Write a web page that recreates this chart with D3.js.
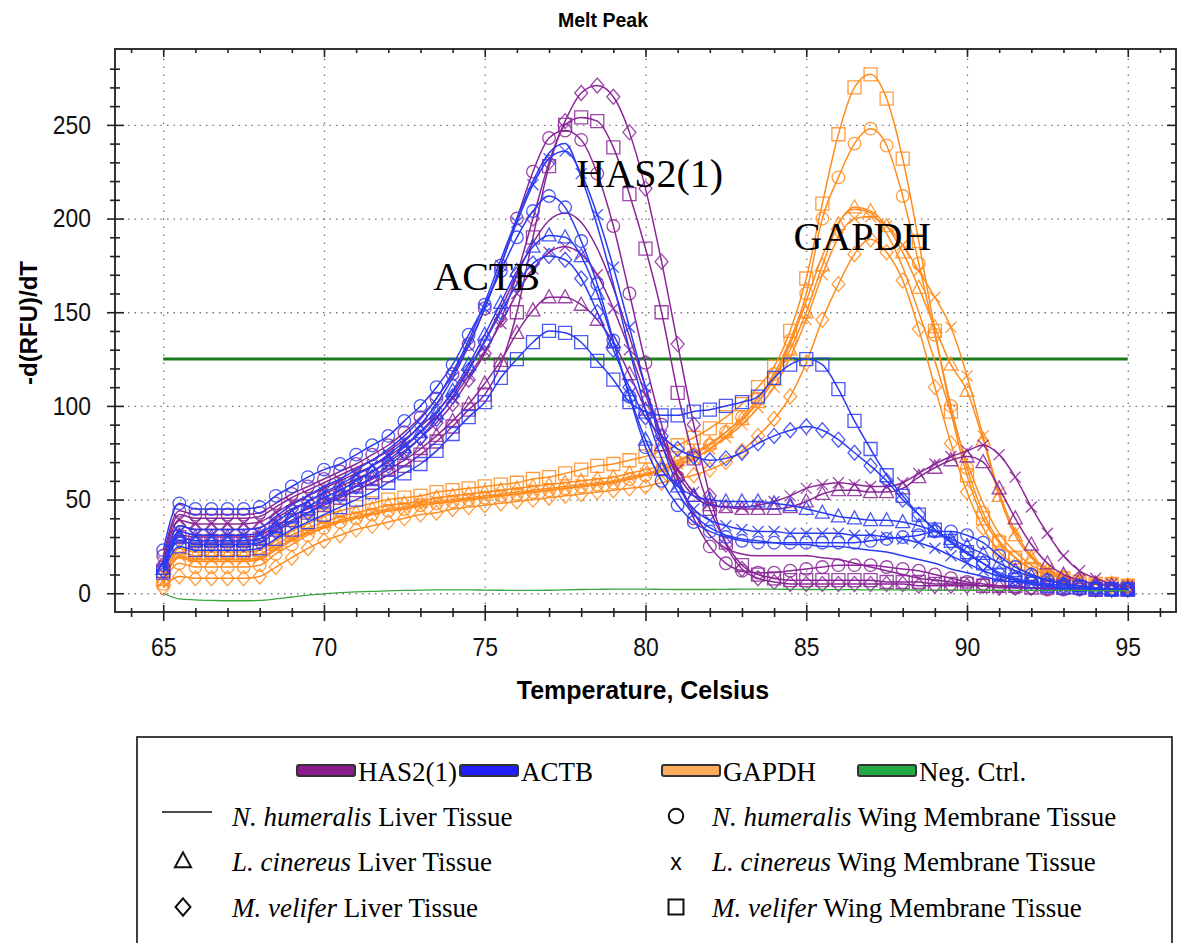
<!DOCTYPE html>
<html>
<head>
<meta charset="utf-8">
<title>Melt Peak</title>
<script src="https://cdn.jsdelivr.net/npm/d3@7"></script>
<style>
  body { margin: 0; background: white; }
  .sans { font-family: "Liberation Sans", Arial, sans-serif; }
  .serif { font-family: "Liberation Serif", "Times New Roman", serif; }
  .tick text { font-family: "Liberation Sans", Arial, sans-serif; font-size: 26px; fill: #111; }
</style>
</head>
<body>
<svg id="chart" width="1182" height="943"></svg>
<script>
// temperature steps (Celsius)
const temps = [65,65.5,66,66.5,67,67.5,68,68.5,69,69.5,
  70,70.5,71,71.5,72,72.5,73,73.5,74,74.5,
  75,75.5,76,76.5,77,77.5,78,78.5,79,79.5,
  80,80.5,81,81.5,82,82.5,83,83.5,84,84.5,
  85,85.5,86,86.5,87,87.5,88,88.5,89,89.5,
  90,90.5,91,91.5,92,92.5,93,93.5,94,94.5,95];

// HAS2(1)
const has2Line = [18,42,40,40,40,40,41,46,51,55,
  59,63,67,71,76,82,89,97,107,120,
  135,152,170,187,199,203,198,184,163,137,
  110,84,61,43,31,24,21,20,20,20,
  20,19,18,16,14,12,10,8,7,6,
  5,4,4,3,3,3,2,2,2,2,2];
const has2Circle = [20,44,42,42,42,42,43,48,53,57,
  61,65,69,74,79,86,94,104,117,133,
  152,175,200,225,243,247,242,224,196,160,
  123,90,62,40,25,16,12,11,11,12,
  13,14,15,15,15,14,13,12,10,8,
  6,5,4,3,3,2,2,2,2,2,2];
const has2Tri = [13,31,30,30,30,30,31,36,41,45,
  49,53,57,61,66,71,77,84,92,101,
  112,124,139,151,158,158,154,146,134,117,
  98,79,63,52,47,46,45,45,45,46,
  49,53,55,55,54,54,56,62,67,71,
  73,70,56,40,26,16,10,7,5,4,3];
const has2X = [17,39,37,37,37,37,38,43,48,52,
  56,60,64,68,73,79,86,94,104,116,
  129,144,160,173,182,185,181,170,152,130,
  106,84,66,54,48,46,46,47,49,52,
  56,58,59,58,57,57,59,64,69,73,
  76,79,74,62,46,32,20,12,8,5,4];
const has2Dia = [15,36,34,34,34,34,35,40,45,49,
  53,57,61,65,70,76,83,91,101,114,
  128,146,170,200,230,252,267,271,265,246,
  216,177,133,90,52,26,13,8,6,5,
  5,5,5,5,5,5,5,4,4,4,
  4,4,3,3,3,3,3,3,2,2,2];
const has2Sq = [12,30,28,28,28,28,29,34,39,43,
  47,51,55,59,63,68,74,81,89,98,
  106,122,150,190,228,250,254,252,238,213,
  184,150,107,72,45,27,15,10,8,7,
  7,7,7,7,7,6,6,6,5,5,
  5,4,4,4,3,3,3,3,2,2,2];

// ACTB
const actbLine = [15,36,34,34,34,34,35,41,47,52,
  57,61,66,71,77,84,93,104,118,135,
  155,178,200,220,235,240,222,196,165,130,
  98,72,54,42,35,31,29,28,27,26,
  26,25,25,24,23,22,20,18,16,13,
  11,9,7,6,5,4,3,3,2,2,2];
const actbCircle = [23,48,45,45,45,45,46,52,57,62,
  66,69,74,79,84,92,100,110,122,138,
  154,172,190,204,212,206,188,165,135,105,
  78,60,47,38,33,30,28,27,27,27,
  27,27,27,27,28,29,30,31,33,33,
  31,27,20,14,10,7,5,4,3,2,2];
const actbTri = [13,30,28,28,28,28,29,35,41,46,
  51,55,60,65,71,78,86,96,108,122,
  138,155,172,185,191,190,180,160,134,106,
  82,66,57,52,50,49,49,49,48,47,
  45,43,41,40,39,39,38,36,33,29,
  25,21,16,12,9,7,5,4,3,2,2];
const actbX = [14,33,31,31,31,31,32,38,44,49,
  54,58,63,68,74,81,90,101,115,132,
  152,175,198,218,232,236,224,202,174,142,
  110,80,58,45,39,36,34,33,33,32,
  32,32,32,31,31,30,29,27,24,20,
  16,12,9,7,5,4,3,3,2,2,2];
const actbDia = [12,28,26,26,26,26,27,33,38,43,
  48,52,57,62,68,75,83,93,105,119,
  134,150,165,176,180,178,168,150,130,110,
  94,84,77,73,71,72,75,80,84,87,
  89,87,82,75,68,60,50,42,34,27,
  21,16,11,8,6,5,4,3,3,2,2];
const actbSq = [11,25,23,23,23,23,24,29,34,38,
  42,46,50,54,59,64,69,76,85,94,
  102,115,125,134,140,139,134,124,114,102,
  97,95,95,97,98,100,102,105,115,122,
  125,122,109,92,77,63,52,42,34,28,
  22,16,10,7,5,4,3,3,2,2,2];

// GAPDH
const gapdhLine = [6,19,17,17,17,17,18,23,28,32,
  35,38,40,42,44,45,47,48,49,50,
  51,52,53,54,55,56,57,58,59,61,
  63,65,68,72,77,84,92,102,115,133,
  156,180,198,205,203,192,174,150,124,96,
  70,48,32,22,15,11,8,6,5,5,4];
const gapdhCircle = [5,16,14,14,14,14,15,21,26,31,
  35,38,40,42,44,45,47,48,49,50,
  51,52,53,54,55,56,57,58,59,61,
  63,66,70,74,79,86,94,104,117,135,
  160,200,222,240,248,239,212,176,138,100,
  67,43,28,19,13,10,8,6,5,5,4];
const gapdhTri = [7,22,20,20,20,20,21,26,31,35,
  38,41,43,45,47,48,49,51,52,53,
  54,55,56,57,58,59,60,61,62,64,
  66,68,71,75,80,86,93,102,114,130,
  150,175,197,206,204,196,182,163,142,122,
  108,82,52,31,19,12,9,7,5,5,4];
const gapdhX = [6,20,18,18,18,18,19,24,29,33,
  36,39,41,43,45,46,48,49,50,51,
  52,53,54,55,56,57,58,59,60,62,
  64,66,69,72,77,83,90,99,110,126,
  146,170,190,200,201,196,186,172,158,142,
  116,84,54,33,20,13,9,7,5,5,4];
const gapdhDia = [3,9,8,8,8,8,9,14,19,24,
  28,31,34,36,38,40,42,43,45,46,
  47,48,49,50,51,52,53,54,55,56,
  57,59,61,63,66,70,76,84,93,105,
  123,146,165,181,189,182,167,141,110,80,
  54,35,22,15,10,8,6,5,5,4,4];
const gapdhSq = [8,24,22,22,22,22,23,28,33,37,
  41,44,46,48,50,51,52,54,55,56,
  57,58,59,61,62,64,66,68,69,71,
  73,76,79,83,88,94,101,110,121,140,
  168,208,245,270,277,264,232,188,140,97,
  63,40,27,19,13,10,8,6,5,5,4];

// negative control
const negCtrl = [0,-3,-3.5,-3.8,-4,-4,-3.8,-3,-2,-1,
  -0.3,0.3,0.7,1,1.3,1.5,1.7,1.8,1.8,1.8,
  1.7,1.6,1.5,1.5,1.6,1.8,2,2.1,2.2,2.2,
  2.2,2.1,2,2,2,2.1,2.2,2.2,2.2,2.1,
  2,2,1.9,1.9,1.8,1.8,1.8,1.7,1.7,1.7,
  1.6,1.6,1.6,1.5,1.5,1.5,1.5,1.5,1.4,1.4,1.4];

const threshold = 125;
const thresholdRange = [65, 95];

const xMajor = [65, 70, 75, 80, 85, 90, 95];
const xMinor = [64,66,67,68,69,71,72,73,74,76,77,78,79,81,82,83,84,86,87,88,89,91,92,93,94,96];
const yMajor = [0, 50, 100, 150, 200, 250];
const yMinor = [10,20,30,40,60,70,80,90,110,120,130,140,160,170,180,190,210,220,230,240,260,270,280];

const genes = ["HAS2(1)", "ACTB", "GAPDH", "Neg. Ctrl."];
const geneColors = { "HAS2(1)": "#8a2796", "ACTB": "#2a3cf2", "GAPDH": "#ff8c1e", "Neg. Ctrl.": "#3aa53a" };
const swatchColors = { "HAS2(1)": "#8b1a8b", "ACTB": "#1f1fff", "GAPDH": "#ffab5c", "Neg. Ctrl.": "#22aa44" };

const samples = [
  { species: "N. humeralis", tissue: "Liver Tissue", marker: "line" },
  { species: "N. humeralis", tissue: "Wing Membrane Tissue", marker: "circle" },
  { species: "L. cinereus", tissue: "Liver Tissue", marker: "triangle" },
  { species: "L. cinereus", tissue: "Wing Membrane Tissue", marker: "x" },
  { species: "M. velifer", tissue: "Liver Tissue", marker: "diamond" },
  { species: "M. velifer", tissue: "Wing Membrane Tissue", marker: "square" }
];

// drawing order: GAPDH, HAS2(1), ACTB
const series = [
  { gene: "GAPDH", marker: "line", values: gapdhLine },
  { gene: "GAPDH", marker: "circle", values: gapdhCircle },
  { gene: "GAPDH", marker: "triangle", values: gapdhTri },
  { gene: "GAPDH", marker: "x", values: gapdhX },
  { gene: "GAPDH", marker: "diamond", values: gapdhDia },
  { gene: "GAPDH", marker: "square", values: gapdhSq },
  { gene: "HAS2(1)", marker: "line", values: has2Line },
  { gene: "HAS2(1)", marker: "circle", values: has2Circle },
  { gene: "HAS2(1)", marker: "triangle", values: has2Tri },
  { gene: "HAS2(1)", marker: "x", values: has2X },
  { gene: "HAS2(1)", marker: "diamond", values: has2Dia },
  { gene: "HAS2(1)", marker: "square", values: has2Sq },
  { gene: "ACTB", marker: "line", values: actbLine },
  { gene: "ACTB", marker: "circle", values: actbCircle },
  { gene: "ACTB", marker: "triangle", values: actbTri },
  { gene: "ACTB", marker: "x", values: actbX },
  { gene: "ACTB", marker: "diamond", values: actbDia },
  { gene: "ACTB", marker: "square", values: actbSq },
  { gene: "Neg. Ctrl.", marker: "line", values: negCtrl }
];

const annotations = [
  { text: "ACTB", t: 73.4, v: 162 },
  { text: "HAS2(1)", t: 77.85, v: 217 },
  { text: "GAPDH", t: 84.6, v: 183 }
];

// ---- layout ----
const margin = { left: 115, top: 49 };
const plotW = 1061, plotH = 563;
const sx = 0.88; // tick labels look horizontally squeezed

const svg = d3.select("#chart");
svg.append("rect").attr("width", 1182).attr("height", 943).attr("fill", "white");

const x = d3.scaleLinear().domain([63.5, 96.5]).range([0, plotW]);
const y = d3.scaleLinear().domain([-10, 290.5]).range([plotH, 0]);

svg.append("text")
  .attr("class", "sans")
  .attr("x", 603).attr("y", 27)
  .attr("text-anchor", "middle")
  .style("font-size", "19.5px").style("font-weight", "bold")
  .text("Melt Peak");

const g = svg.append("g").attr("transform", `translate(${margin.left},${margin.top})`);

// dotted grid
g.append("g")
  .attr("transform", `translate(0,${plotH})`)
  .call(d3.axisBottom(x).tickValues(xMajor).tickSize(-plotH).tickFormat(""))
  .call(a => a.select(".domain").remove())
  .selectAll("line").attr("stroke", "#777").attr("stroke-width", 1.3).attr("stroke-dasharray", "1.5,6.5");
g.append("g")
  .call(d3.axisLeft(y).tickValues(yMajor).tickSize(-plotW).tickFormat(""))
  .call(a => a.select(".domain").remove())
  .selectAll("line").attr("stroke", "#777").attr("stroke-width", 1.3).attr("stroke-dasharray", "1.5,5");

// threshold
g.append("line")
  .attr("x1", x(thresholdRange[0])).attr("x2", x(thresholdRange[1]))
  .attr("y1", y(threshold)).attr("y2", y(threshold))
  .attr("stroke", "#1d7a1d").attr("stroke-width", 3);

function markerPath(type, s) {
  s = s || 1;
  switch (type) {
    case "circle": return d3.symbol(d3.symbolCircle, 125 * s * s)();
    case "triangle": return `M0,${-7.5*s}L${7*s},${5.5*s}L${-7*s},${5.5*s}Z`;
    case "diamond": return `M0,${-7.5*s}L${6.5*s},0L0,${7.5*s}L${-6.5*s},0Z`;
    case "square": return `M${-6.5*s},${-6.5*s}H${6.5*s}V${6.5*s}H${-6.5*s}Z`;
    case "x": return `M${-5.5*s},${-5.5*s}L${5.5*s},${5.5*s}M${-5.5*s},${5.5*s}L${5.5*s},${-5.5*s}`;
  }
  return "";
}

const line = d3.line()
  .x((d, i) => x(temps[i]))
  .y(d => y(d))
  .curve(d3.curveMonotoneX);

series.forEach(s => {
  const col = geneColors[s.gene];
  const sg = g.append("g");
  sg.append("path")
    .attr("d", line(s.values))
    .attr("fill", "none")
    .attr("stroke", col)
    .attr("stroke-width", s.gene === "Neg. Ctrl." ? 1.3 : 1.5);
  if (s.marker !== "line") {
    sg.selectAll("path.mk")
      .data(s.values)
      .join("path")
      .attr("class", "mk")
      .attr("transform", (d, i) => `translate(${x(temps[i])},${y(d)})`)
      .attr("d", markerPath(s.marker))
      .attr("fill", "none")
      .attr("stroke", col)
      .attr("stroke-opacity", 0.85)
      .attr("stroke-width", 1.3);
  }
});

// frame
g.append("rect")
  .attr("width", plotW).attr("height", plotH)
  .attr("fill", "none").attr("stroke", "#333").attr("stroke-width", 2);

function styleTicks(sel) {
  sel.select(".domain").remove();
  sel.selectAll(".tick line").attr("stroke", "#222").attr("stroke-width", 1.6);
}

// bottom axis
g.append("g").attr("transform", `translate(0,${plotH})`)
  .call(d3.axisBottom(x).tickValues(xMinor).tickSize(5).tickFormat(""))
  .call(styleTicks)
  .selectAll(".tick line").attr("y1", -4);
const xAx = g.append("g").attr("transform", `translate(0,${plotH})`)
  .call(d3.axisBottom(x).tickValues(xMajor).tickSize(9).tickPadding(17))
  .call(styleTicks);
xAx.selectAll(".tick line").attr("y1", -7);
xAx.selectAll(".tick text").attr("transform", `scale(${sx},1)`);

// top axis
g.append("g")
  .call(d3.axisTop(x).tickValues(xMinor).tickSize(-4).tickFormat(""))
  .call(styleTicks);
g.append("g")
  .call(d3.axisTop(x).tickValues(xMajor).tickSize(-8).tickFormat(""))
  .call(styleTicks);

// left axis
g.append("g")
  .call(d3.axisLeft(y).tickValues(yMinor).tickSize(5).tickFormat(""))
  .call(styleTicks)
  .selectAll(".tick line").attr("x1", 5);
const yAx = g.append("g")
  .call(d3.axisLeft(y).tickValues(yMajor).tickSize(8).tickPadding(16))
  .call(styleTicks);
yAx.selectAll(".tick line").attr("x1", 9);
yAx.selectAll(".tick text").attr("x", -24 / sx).attr("transform", `scale(${sx},1)`);

// right axis
g.append("g").attr("transform", `translate(${plotW},0)`)
  .call(d3.axisRight(y).tickValues(yMinor).tickSize(-5).tickFormat(""))
  .call(styleTicks);
g.append("g").attr("transform", `translate(${plotW},0)`)
  .call(d3.axisRight(y).tickValues(yMajor).tickSize(-9).tickFormat(""))
  .call(styleTicks);

// axis titles
svg.append("text")
  .attr("class", "sans")
  .attr("x", 643).attr("y", 699)
  .attr("text-anchor", "middle")
  .style("font-size", "25px").style("font-weight", "bold")
  .text("Temperature, Celsius");
svg.append("text")
  .attr("class", "sans")
  .attr("transform", "translate(37,323) rotate(-90)")
  .attr("text-anchor", "middle")
  .style("font-size", "24px").style("font-weight", "bold")
  .text("-d(RFU)/dT");

// gene annotations
g.selectAll("text.anno")
  .data(annotations)
  .join("text")
  .attr("class", "anno serif")
  .attr("x", d => x(d.t)).attr("y", d => y(d.v))
  .style("font-size", "40px")
  .text(d => d.text);

// ---- legend ----
svg.append("rect")
  .attr("x", 137).attr("y", 737).attr("width", 1035).attr("height", 240)
  .attr("fill", "white").attr("stroke", "#111").attr("stroke-width", 1.6);

const swatchX = [297, 460, 662, 858];
const leg = svg.append("g").attr("class", "serif");
genes.forEach((gn, i) => {
  leg.append("rect")
    .attr("x", swatchX[i]).attr("y", 765)
    .attr("width", 58).attr("height", 11).attr("rx", 2)
    .attr("fill", swatchColors[gn]).attr("stroke", "#333").attr("stroke-width", 2);
  leg.append("text")
    .attr("x", swatchX[i] + 61).attr("y", 781)
    .style("font-size", "27px")
    .text(gn);
});

const rowY = [817, 862, 908];
const colX = [183, 676];
const textX = [232, 712];
samples.forEach((s, i) => {
  const col = i % 2, row = Math.floor(i / 2);
  const cy = rowY[row];
  if (s.marker === "line") {
    leg.append("line")
      .attr("x1", 162).attr("x2", 212).attr("y1", cy - 5).attr("y2", cy - 5)
      .attr("stroke", "#111").attr("stroke-width", 1.5);
  } else if (s.marker === "x") {
    leg.append("text")
      .attr("class", "sans")
      .attr("x", colX[col]).attr("y", cy + 8)
      .attr("text-anchor", "middle")
      .style("font-size", "23px")
      .text("x");
  } else {
    leg.append("path")
      .attr("transform", `translate(${colX[col]},${cy - 1})`)
      .attr("d", markerPath(s.marker, 1.15))
      .attr("fill", "none").attr("stroke", "#111").attr("stroke-width", 2);
  }
  const t = leg.append("text")
    .attr("x", textX[col]).attr("y", cy + 9)
    .style("font-size", "27px");
  t.append("tspan").style("font-style", "italic").text(s.species);
  t.append("tspan").text(" " + s.tissue);
});
</script>
</body>
</html>
